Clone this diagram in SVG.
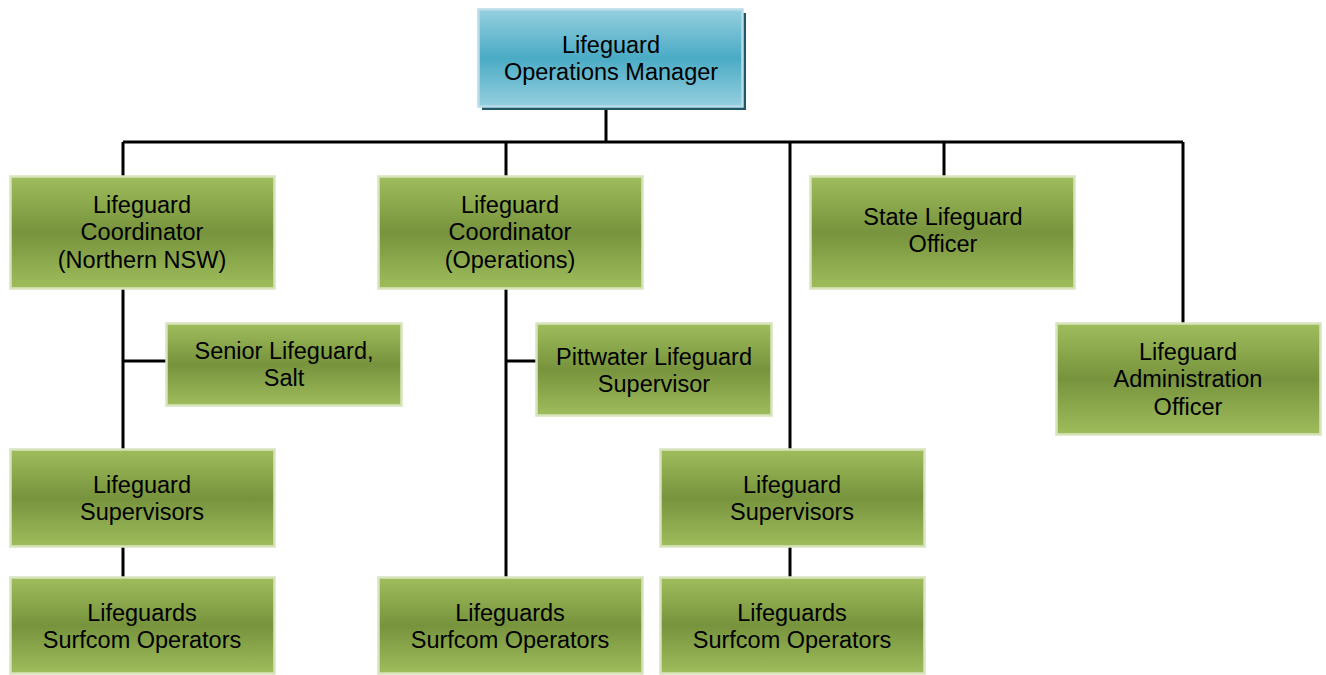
<svg xmlns="http://www.w3.org/2000/svg" width="1326" height="675" viewBox="0 0 1326 675">
<defs>
<linearGradient id="g" x1="0" y1="0" x2="0" y2="1">
<stop offset="0" stop-color="#9fbd5c"/>
<stop offset="0.5" stop-color="#77933d"/>
<stop offset="1" stop-color="#9fbd5c"/>
</linearGradient>
<linearGradient id="b" x1="0" y1="0" x2="0" y2="1">
<stop offset="0" stop-color="#95cfdf"/>
<stop offset="0.5" stop-color="#4aabc5"/>
<stop offset="1" stop-color="#95cfdf"/>
</linearGradient>
</defs>
<style>
.n{fill:url(#g);stroke:#d7e4bd;stroke-width:2.5}
.t{font-family:"Liberation Sans",Arial,sans-serif;font-size:23.5px;fill:#000;text-anchor:middle}
.c{stroke:#000;stroke-width:3;fill:none}
</style>
<rect width="1326" height="675" fill="#fff"/>
<g id="connectors">
<path class="c" d="M606 107V142M123 142H1183M123 142V176M506 142V176M790 142V449M944 142V176M1183 142V323"/>
<path class="c" d="M123 289V449M123 361H166M123 547V577"/>
<path class="c" d="M506 289V577M506 361H536"/>
<path class="c" d="M790 547V577"/>
</g>
<g id="manager">
<rect x="482" y="13" width="264" height="97" fill="#215868"/>
<rect x="478.5" y="9.5" width="264" height="97" fill="url(#b)" stroke="#b7dde8" stroke-width="2.5"/>
<text class="t" x="611" y="53">Lifeguard</text>
<text class="t" x="611" y="80">Operations Manager</text>
</g>
<g id="coord-nnsw">
<rect class="n" x="10.5" y="176.5" width="264" height="112"/>
<text class="t" x="142" y="213">Lifeguard</text>
<text class="t" x="142" y="240">Coordinator</text>
<text class="t" x="142" y="268">(Northern NSW)</text>
</g>
<g id="coord-ops">
<rect class="n" x="378.5" y="176.5" width="264" height="112"/>
<text class="t" x="510" y="213">Lifeguard</text>
<text class="t" x="510" y="240">Coordinator</text>
<text class="t" x="510" y="268">(Operations)</text>
</g>
<g id="state-officer">
<rect class="n" x="810.5" y="176.5" width="264" height="112"/>
<text class="t" x="943" y="225">State Lifeguard</text>
<text class="t" x="943" y="252">Officer</text>
</g>
<g id="admin-officer">
<rect class="n" x="1056.5" y="323.5" width="264" height="111"/>
<text class="t" x="1188" y="360">Lifeguard</text>
<text class="t" x="1188" y="387">Administration</text>
<text class="t" x="1188" y="415">Officer</text>
</g>
<g id="senior-salt">
<rect class="n" x="166.5" y="323.5" width="235" height="82"/>
<text class="t" x="284" y="359">Senior Lifeguard,</text>
<text class="t" x="284" y="386">Salt</text>
</g>
<g id="pittwater">
<rect class="n" x="536.5" y="323.5" width="235" height="92"/>
<text class="t" x="654" y="365">Pittwater Lifeguard</text>
<text class="t" x="654" y="392">Supervisor</text>
</g>
<g id="supervisors-left">
<rect class="n" x="10.5" y="449.5" width="264" height="97"/>
<text class="t" x="142" y="493">Lifeguard</text>
<text class="t" x="142" y="520">Supervisors</text>
</g>
<g id="supervisors-right">
<rect class="n" x="660.5" y="449.5" width="264" height="97"/>
<text class="t" x="792" y="493">Lifeguard</text>
<text class="t" x="792" y="520">Supervisors</text>
</g>
<g id="lifeguards-left">
<rect class="n" x="10.5" y="577.5" width="264" height="96"/>
<text class="t" x="142" y="621">Lifeguards</text>
<text class="t" x="142" y="648">Surfcom Operators</text>
</g>
<g id="lifeguards-mid">
<rect class="n" x="378.5" y="577.5" width="264" height="96"/>
<text class="t" x="510" y="621">Lifeguards</text>
<text class="t" x="510" y="648">Surfcom Operators</text>
</g>
<g id="lifeguards-right">
<rect class="n" x="660.5" y="577.5" width="264" height="96"/>
<text class="t" x="792" y="621">Lifeguards</text>
<text class="t" x="792" y="648">Surfcom Operators</text>
</g>
</svg>
